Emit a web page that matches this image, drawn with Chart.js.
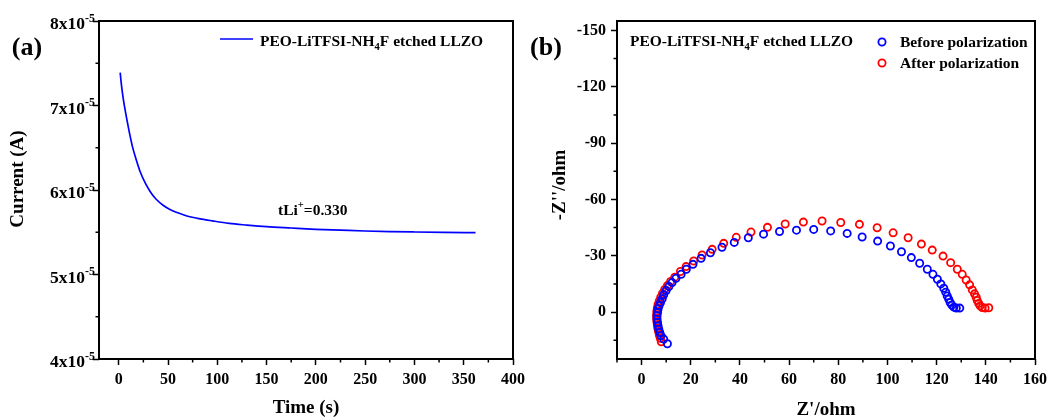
<!DOCTYPE html>
<html>
<head>
<meta charset="utf-8">
<script src="https://cdn.jsdelivr.net/npm/chart.js@4.4.0/dist/chart.umd.min.js"></script>
<style>
body{margin:0;background:#fff;}
#wrap{position:relative;width:1052px;height:420px;}
#left{position:absolute;left:0;top:0;}
#right{position:absolute;left:530px;top:0;}
</style>
</head>
<body>
<div id="wrap">
<canvas id="left" width="530" height="420"></canvas>
<canvas id="right" width="522" height="420"></canvas>
</div>
<script>
// (a) chronoamperometry
var time_s = [1.5, 2.5, 4, 6, 8.5, 11, 14, 18, 22, 27, 32, 38, 45, 52, 60, 70, 80, 95, 112, 130, 150, 175, 200, 225, 250, 275, 300, 330, 362];
var current_A = [7.39e-5, 7.27e-5, 7.13e-5, 6.98e-5, 6.82e-5, 6.67e-5, 6.51e-5, 6.35e-5, 6.21e-5, 6.08e-5, 5.98e-5, 5.89e-5, 5.82e-5, 5.77e-5,
  5.73e-5, 5.69e-5, 5.665e-5, 5.635e-5, 5.605e-5, 5.585e-5, 5.566e-5, 5.55e-5, 5.535e-5, 5.525e-5, 5.515e-5, 5.508e-5, 5.503e-5, 5.498e-5, 5.495e-5];
var timeTicks = [0, 50, 100, 150, 200, 250, 300, 350, 400];
var timeMinor = [25, 75, 125, 175, 225, 275, 325, 375];
var currentTicks = [4e-5, 5e-5, 6e-5, 7e-5, 8e-5];
var currentMinor = [4.5e-5, 5.5e-5, 6.5e-5, 7.5e-5];
var lineName = ['PEO-LiTFSI-NH', '4', 'F etched LLZO'];

// (b) impedance, before / after polarization
var before_zre = [10.5, 9.0, 7.9, 7.4, 7.0, 6.7, 6.5, 6.3, 6.3, 6.5, 6.7, 7.1, 7.7, 8.4, 9.0, 10.0, 11.1, 12.4, 14.0, 16.1, 18.2, 20.9, 24.2, 28.0, 32.7,
  37.7, 43.4, 49.6, 56.1, 63.0, 70.0, 76.9, 83.6, 89.7, 96.0, 101.2, 105.7, 109.7, 113.1, 116.2, 118.5, 120.3, 121.7, 122.9, 123.7, 124.3, 124.9, 125.5, 126.2, 127.0, 128.0, 129.4];
var before_zim = [16.9, 14.4, 12.6, 10.9, 9.1, 7.4, 5.6, 3.8, 2.0, 0.2, -1.6, -3.3, -5.1, -7.1, -9.2, -11.5, -13.6, -15.7, -18.0, -20.1, -22.8, -25.4, -28.6, -31.6, -34.5,
  -37.1, -39.6, -41.5, -42.9, -43.6, -44.0, -43.2, -41.9, -40.0, -37.8, -35.2, -32.1, -29.0, -26.0, -22.8, -20.1, -17.5, -15.0, -12.7, -10.6, -8.6, -6.9, -5.1, -3.7, -2.6, -2.1, -2.1];
var after_zre = [8.0, 7.6, 7.2, 6.9, 6.6, 6.4, 6.2, 6.1, 6.1, 6.2, 6.4, 6.7, 7.2, 7.8, 8.5, 9.4, 10.5, 11.8, 13.5, 15.8, 18.1, 21.2, 24.6, 28.7, 33.4,
  38.5, 44.5, 51.2, 58.4, 65.8, 73.4, 81.0, 88.6, 95.8, 102.3, 108.4, 113.8, 118.2, 122.6, 125.7, 128.4, 130.4, 132.0, 133.4, 134.5, 135.4, 136.1, 136.5, 137.1, 137.7, 138.5, 139.7, 141.2];
var after_zim = [15.8, 14.0, 12.2, 10.4, 8.6, 6.8, 5.0, 3.2, 1.4, -0.4, -2.2, -4.0, -5.9, -7.9, -9.9, -12.0, -14.1, -16.3, -18.6, -21.6, -24.2, -27.2, -30.4, -33.4, -36.6,
  -39.8, -42.6, -45.1, -46.9, -47.9, -48.5, -47.7, -46.7, -44.9, -42.2, -39.6, -36.2, -33.0, -29.8, -26.3, -22.8, -20.1, -17.1, -14.5, -11.8, -9.7, -7.9, -6.2, -4.6, -3.3, -2.4, -2.1, -2.3];
var seriesNames = ['Before polarization', 'After polarization'];
var seriesColors = ['#0000ff', '#ff0000'];
var zreTicks = [0, 20, 40, 60, 80, 100, 120, 140, 160];
var zreMinor = [-10, 10, 30, 50, 70, 90, 110, 130, 150];
var zimTicks = [-150, -120, -90, -60, -30, 0];
var zimMinor = [-135, -105, -75, -45, -15, 15];

var FONT = "'Liberation Serif', 'Times New Roman', serif";

function pts(xs, ys) {
  var out = [];
  for (var i = 0; i < xs.length; i++) out.push({x: xs[i], y: ys[i]});
  return out;
}

// text with sub (-1) / sup (1) parts
function richText(ctx, x, y, parts, size, align) {
  var w = 0, i, s;
  for (i = 0; i < parts.length; i++) {
    s = parts[i][1] ? size * 0.68 : size;
    ctx.font = 'bold ' + s + 'px ' + FONT;
    w += ctx.measureText(parts[i][0]).width;
  }
  var cx = align === 'right' ? x - w : (align === 'center' ? x - w / 2 : x);
  ctx.textAlign = 'left';
  ctx.textBaseline = 'alphabetic';
  for (i = 0; i < parts.length; i++) {
    s = parts[i][1] ? size * 0.68 : size;
    ctx.font = 'bold ' + s + 'px ' + FONT;
    var dy = parts[i][1] === 1 ? -size * 0.42 : (parts[i][1] === -1 ? size * 0.28 : 0);
    ctx.fillText(parts[i][0], cx, y + dy);
    cx += ctx.measureText(parts[i][0]).width;
  }
}

function plainText(ctx, str, x, y, size, rot) {
  ctx.save();
  ctx.translate(x, y);
  if (rot) ctx.rotate(rot);
  ctx.font = 'bold ' + size + 'px ' + FONT;
  ctx.textAlign = 'center';
  ctx.textBaseline = 'middle';
  ctx.fillText(str, 0, 0);
  ctx.restore();
}

function makeFrame(xMinor, yMinor, extras) {
  return {
    id: 'frame',
    afterDraw: function(chart) {
      var ctx = chart.ctx, a = chart.chartArea, sx = chart.scales.x, sy = chart.scales.y;
      ctx.save();
      ctx.strokeStyle = '#000';
      ctx.fillStyle = '#000';
      ctx.lineWidth = 1.5;
      ctx.beginPath();
      xMinor.forEach(function(v) {
        var px = sx.getPixelForValue(v);
        ctx.moveTo(px, a.bottom); ctx.lineTo(px, a.bottom + 3.5);
      });
      yMinor.forEach(function(v) {
        var py = sy.getPixelForValue(v);
        ctx.moveTo(a.left, py); ctx.lineTo(a.left - 3.5, py);
      });
      ctx.stroke();
      ctx.lineWidth = 2;
      ctx.strokeRect(a.left, a.top, a.right - a.left, a.bottom - a.top);
      extras(ctx, chart);
      ctx.restore();
    }
  };
}

function axisX(min, max, ticks, showLabels) {
  return {
    type: 'linear', min: min, max: max,
    afterBuildTicks: function(s) { s.ticks = ticks.map(function(v) { return {value: v}; }); },
    afterFit: function(s) { s.height = 61; },
    border: {display: false},
    grid: {drawOnChartArea: false, drawTicks: true, tickLength: 6, tickWidth: 1.5, tickColor: '#000'},
    ticks: {display: showLabels, color: '#000', padding: 5, maxRotation: 0, autoSkip: false,
      font: {family: FONT, size: 16, weight: 'bold'}}
  };
}

// ---------- (a) ----------
var leftChart = new Chart(document.getElementById('left').getContext('2d'), {
  type: 'line',
  data: {
    datasets: [{
      label: lineName.join(''),
      data: pts(time_s, current_A),
      borderColor: '#0000ff',
      borderWidth: 1.7,
      pointRadius: 0,
      fill: false,
      cubicInterpolationMode: 'monotone'
    }]
  },
  options: {
    responsive: false,
    animation: false,
    devicePixelRatio: 1,
    layout: {padding: {top: 21, right: 17, left: 0, bottom: 0}},
    plugins: {legend: {display: false}, tooltip: {enabled: false}},
    scales: {
      x: axisX(-20, 400, timeTicks, true),
      y: {
        type: 'linear', min: 4e-5, max: 8e-5,
        afterBuildTicks: function(s) { s.ticks = currentTicks.map(function(v) { return {value: v}; }); },
        afterFit: function(s) { s.width = 99; },
        border: {display: false},
        grid: {drawOnChartArea: false, drawTicks: true, tickLength: 6, tickWidth: 1.5, tickColor: '#000'},
        ticks: {display: false}
      }
    }
  },
  plugins: [makeFrame(timeMinor, currentMinor, function(ctx, chart) {
    var a = chart.chartArea, sy = chart.scales.y;
    currentTicks.forEach(function(v) {
      var py = sy.getPixelForValue(v);
      var m = String(Math.round(v / 1e-5));
      richText(ctx, a.left - 4, py + 8, [[m + 'x10', 0], ['-5', 1]], 17.5, 'right');
    });
    plainText(ctx, '(a)', 27, 48, 26);
    ctx.strokeStyle = '#0000ff';
    ctx.lineWidth = 1.7;
    ctx.beginPath(); ctx.moveTo(220, 39); ctx.lineTo(253, 39); ctx.stroke();
    richText(ctx, 260, 46, [[lineName[0], 0], [lineName[1], -1], [lineName[2], 0]], 15.5, 'left');
    richText(ctx, 278, 215, [['tLi', 0], ['+', 1], ['=0.330', 0]], 15.5, 'left');
    plainText(ctx, 'Time (s)', (a.left + a.right) / 2, 408, 19);
    plainText(ctx, 'Current (A)', 18, 179, 19, -Math.PI / 2);
  })]
});

// ---------- (b) ----------
var rightChart = new Chart(document.getElementById('right').getContext('2d'), {
  type: 'scatter',
  data: {
    datasets: [{
      label: seriesNames[0],
      data: pts(before_zre, before_zim),
      borderColor: seriesColors[0],
      backgroundColor: 'rgba(255,255,255,0)',
      borderWidth: 1.8,
      pointRadius: 3.6
    }, {
      label: seriesNames[1],
      data: pts(after_zre, after_zim),
      borderColor: seriesColors[1],
      backgroundColor: 'rgba(255,255,255,0)',
      borderWidth: 1.8,
      pointRadius: 3.6
    }]
  },
  options: {
    responsive: false,
    animation: false,
    devicePixelRatio: 1,
    layout: {padding: {top: 21, right: 15, left: 0, bottom: 0}},
    plugins: {legend: {display: false}, tooltip: {enabled: false}},
    scales: {
      x: axisX(-10, 160, zreTicks, true),
      y: {
        type: 'linear', min: -155, max: 25, reverse: true,
        afterBuildTicks: function(s) { s.ticks = zimTicks.map(function(v) { return {value: v}; }); },
        afterFit: function(s) { s.width = 87; },
        border: {display: false},
        grid: {drawOnChartArea: false, drawTicks: true, tickLength: 6, tickWidth: 1.5, tickColor: '#000'},
        ticks: {color: '#000', padding: 5, font: {family: FONT, size: 16, weight: 'bold'}}
      }
    }
  },
  plugins: [makeFrame(zreMinor, zimMinor, function(ctx, chart) {
    var a = chart.chartArea;
    plainText(ctx, '(b)', 16, 48, 26);
    richText(ctx, 100, 46, [[lineName[0], 0], [lineName[1], -1], [lineName[2], 0]], 15.5, 'left');
    var ly = [42, 63];
    for (var i = 0; i < 2; i++) {
      ctx.strokeStyle = seriesColors[i];
      ctx.lineWidth = 1.8;
      ctx.beginPath(); ctx.arc(352, ly[i], 3.6, 0, Math.PI * 2); ctx.stroke();
      ctx.fillStyle = '#000';
      richText(ctx, 370, ly[i] + 5, [[seriesNames[i], 0]], 15.5, 'left');
    }
    plainText(ctx, "Z'/ohm", (a.left + a.right) / 2, 410, 19);
    plainText(ctx, "-Z''/ohm", 30, 185, 19, -Math.PI / 2);
  })]
});
</script>
</body>
</html>
